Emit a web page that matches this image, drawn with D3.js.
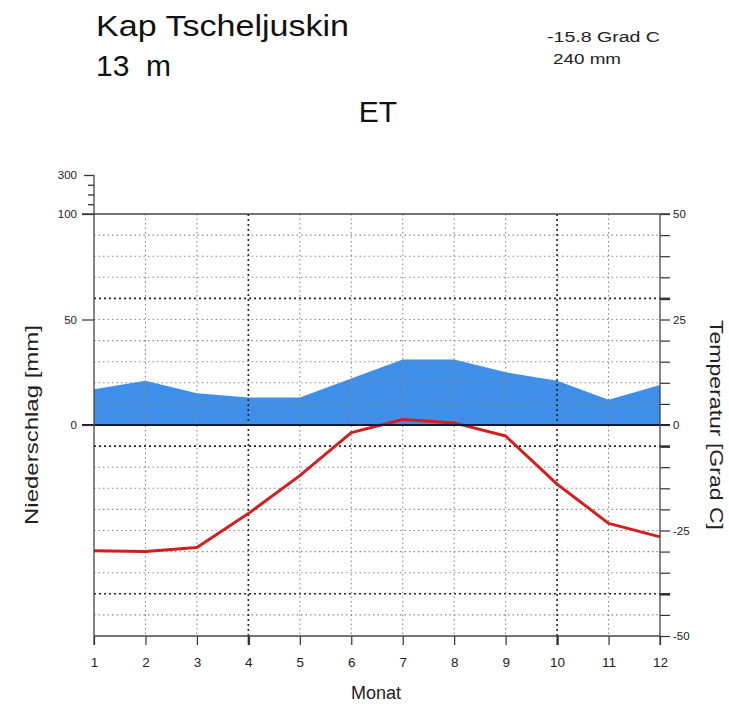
<!DOCTYPE html>
<html>
<head>
<meta charset="utf-8">
<script src="https://cdn.jsdelivr.net/npm/d3@7"></script>
<style>
  html, body { margin: 0; padding: 0; background: #fff; }
  svg { display: block; font-family: "Liberation Sans", Arial, sans-serif; }
  .pre { white-space: pre; }
</style>
</head>
<body>
<svg id="chart" width="729" height="704"></svg>
<script>
// Climate diagram (Walter–Lieth style) for Kap Tscheljuskin
const months = [1, 2, 3, 4, 5, 6, 7, 8, 9, 10, 11, 12];
const precipitation = [17, 21, 15, 13, 13, 22, 31, 31, 25, 21, 12, 19];      // mm
const temperature = [-29.8, -30, -29, -21, -12, -1.8, 1.3, 0.5, -2.6, -14, -23.3, -26.5]; // °C

const station = "Kap Tscheljuskin";
const elevation = "13  m";
const meanTemp = "-15.8 Grad C";
const annualPrecip = "240 mm";
const climateClass = "ET";

const precipTicks = [0, 50, 100];
const precipUpperTicks = [150, 200, 250, 300];
const tempTicks = d3.range(-50, 51, 5);
const tempLabels = [-50, -25, 0, 25, 50];
const strongTempLines = [30, -5, -40];
const strongMonthLines = [4, 10];

const svg = d3.select("#chart");

const x = d3.scaleLinear().domain([1, 12]).range([94, 660]);
const yT = d3.scaleLinear().domain([-50, 50]).range([636, 214]);
const yP = d3.scaleLinear().domain([0, 100]).range([425, 214]);
const yPUp = d3.scaleLinear().domain([100, 300]).range([214, 175]);

// precipitation area
const area = d3.area()
  .x((d, i) => x(months[i]))
  .y0(yP(0))
  .y1(d => yP(d));
svg.append("path")
  .datum(precipitation)
  .attr("d", area)
  .attr("fill", "#3f8fe8");

// horizontal grid (every 5 °C)
svg.append("g").selectAll("line")
  .data(tempTicks.filter(t => t > -50 && t < 50 && t !== 0))
  .join("line")
  .attr("x1", x(1)).attr("x2", x(12))
  .attr("y1", d => yT(d)).attr("y2", d => yT(d))
  .attr("stroke", d => strongTempLines.includes(d) ? "#222" : "#8a8a8a")
  .attr("stroke-width", d => strongTempLines.includes(d) ? 1.6 : 1.1)
  .attr("stroke-dasharray", d => strongTempLines.includes(d) ? "2,3" : "1.5,3");

// vertical grid (months)
svg.append("g").selectAll("line")
  .data(months.filter(m => m > 1 && m < 12))
  .join("line")
  .attr("x1", d => x(d)).attr("x2", d => x(d))
  .attr("y1", yT(50)).attr("y2", yT(-50))
  .attr("stroke", d => strongMonthLines.includes(d) ? "#222" : "#8a8a8a")
  .attr("stroke-width", d => strongMonthLines.includes(d) ? 1.6 : 1.1)
  .attr("stroke-dasharray", d => strongMonthLines.includes(d) ? "2,3" : "1.5,3");

// temperature line
const line = d3.line()
  .x((d, i) => x(months[i]))
  .y(d => yT(d));
svg.append("path")
  .datum(temperature)
  .attr("d", line)
  .attr("fill", "none")
  .attr("stroke", "#d41e1e")
  .attr("stroke-width", 3)
  .attr("stroke-linejoin", "round");

// frame lines
svg.append("line")
  .attr("x1", 82).attr("x2", 670)
  .attr("y1", yT(50)).attr("y2", yT(50))
  .attr("stroke", "#444").attr("stroke-width", 1.3);
svg.append("line")
  .attr("x1", 82).attr("x2", 670)
  .attr("y1", yT(0)).attr("y2", yT(0))
  .attr("stroke", "#0d1a3a").attr("stroke-width", 1.8);

const tickText = g => g.selectAll("text")
  .attr("font-size", 11.5)
  .attr("fill", "#222")
  .attr("font-family", "Liberation Sans, Arial, sans-serif");

// left axis: precipitation 0–100
const leftAxis = svg.append("g")
  .attr("transform", `translate(${x(1)},0)`)
  .call(d3.axisLeft(yP).tickValues(precipTicks).tickSize(12).tickPadding(5).tickFormat(d3.format("d")));
leftAxis.select(".domain").remove();
leftAxis.selectAll("line").attr("stroke", "#333").attr("stroke-width", 1.2);
leftAxis.call(tickText);

// left axis: compressed range above 100 mm
const upperAxis = svg.append("g")
  .attr("transform", `translate(${x(1)},0)`)
  .call(d3.axisLeft(yPUp).tickValues(precipUpperTicks)
    .tickSize(12).tickPadding(5)
    .tickFormat(d => d === 300 ? d : ""));
upperAxis.select(".domain").remove();
upperAxis.selectAll(".tick line")
  .attr("x2", d => d === 300 ? -10 : -6)
  .attr("stroke", "#333").attr("stroke-width", 1.3);
upperAxis.call(tickText);

// left spine
svg.append("line")
  .attr("x1", x(1)).attr("x2", x(1))
  .attr("y1", yPUp(300)).attr("y2", yT(-50) + 9)
  .attr("stroke", "#444").attr("stroke-width", 1.3);

// right axis: temperature
const rightAxis = svg.append("g")
  .attr("transform", `translate(${x(12)},0)`)
  .call(d3.axisRight(yT).tickValues(tempTicks).tickSize(10).tickPadding(3)
    .tickFormat(d => tempLabels.includes(d) ? d : ""));
rightAxis.select(".domain").remove();
rightAxis.selectAll(".tick line")
  .attr("stroke", "#333")
  .attr("stroke-width", d => strongTempLines.includes(d) ? 2.6 : 1.2);
rightAxis.call(tickText);
svg.append("line")
  .attr("x1", x(12)).attr("x2", x(12))
  .attr("y1", yT(50)).attr("y2", yT(-50) + 9)
  .attr("stroke", "#444").attr("stroke-width", 1.3);

// bottom axis: months
const bottomAxis = svg.append("g")
  .attr("transform", `translate(0,${yT(-50)})`)
  .call(d3.axisBottom(x).tickValues(months).tickSize(9).tickPadding(12).tickFormat(d3.format("d")));
bottomAxis.select(".domain").remove();
bottomAxis.selectAll(".tick line")
  .attr("stroke", "#333")
  .attr("stroke-width", d => strongMonthLines.includes(d) ? 2.4 : 1.2);
bottomAxis.selectAll("text").attr("font-size", 13.5).attr("fill", "#222");
svg.append("line")
  .attr("x1", x(1)).attr("x2", x(12))
  .attr("y1", yT(-50)).attr("y2", yT(-50))
  .attr("stroke", "#444").attr("stroke-width", 1.3);

// axis titles
svg.append("text")
  .attr("transform", `translate(38,${yP(0)}) rotate(-90)`)
  .attr("text-anchor", "middle")
  .attr("font-size", 18).attr("fill", "#222")
  .attr("textLength", 200).attr("lengthAdjust", "spacingAndGlyphs")
  .text("Niederschlag [mm]");
svg.append("text")
  .attr("transform", `translate(710,${yT(0)}) rotate(90)`)
  .attr("text-anchor", "middle")
  .attr("font-size", 18).attr("fill", "#222")
  .attr("textLength", 210).attr("lengthAdjust", "spacingAndGlyphs")
  .text("Temperatur [Grad C]");
svg.append("text")
  .attr("x", 376).attr("y", 699)
  .attr("text-anchor", "middle")
  .attr("font-size", 18).attr("fill", "#222")
  .text("Monat");

// header
svg.append("text")
  .attr("x", 96).attr("y", 36)
  .attr("font-size", 30).attr("fill", "#111")
  .attr("textLength", 253).attr("lengthAdjust", "spacingAndGlyphs")
  .text(station);
svg.append("text")
  .attr("class", "pre")
  .attr("x", 96).attr("y", 76)
  .attr("font-size", 30).attr("fill", "#111")
  .text(elevation);
svg.append("text")
  .attr("x", 547).attr("y", 42)
  .attr("font-size", 14).attr("fill", "#222")
  .attr("textLength", 113).attr("lengthAdjust", "spacingAndGlyphs")
  .text(meanTemp);
svg.append("text")
  .attr("x", 553).attr("y", 64)
  .attr("font-size", 14).attr("fill", "#222")
  .attr("textLength", 68).attr("lengthAdjust", "spacingAndGlyphs")
  .text(annualPrecip);
svg.append("text")
  .attr("x", 378).attr("y", 122)
  .attr("text-anchor", "middle")
  .attr("font-size", 30).attr("fill", "#111")
  .text(climateClass);
</script>
</body>
</html>
